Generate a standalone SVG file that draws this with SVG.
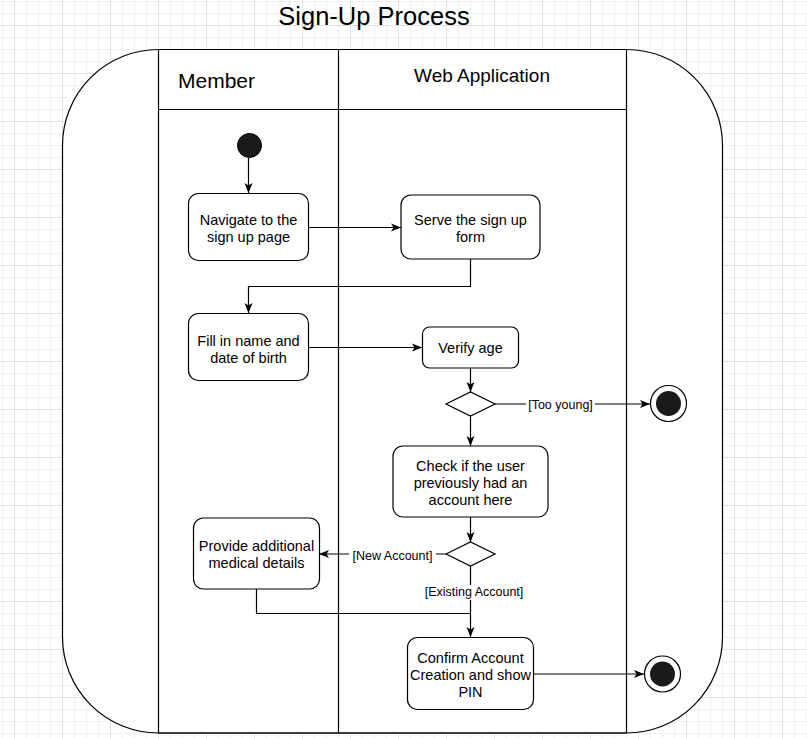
<svg xmlns="http://www.w3.org/2000/svg" width="807" height="738" viewBox="0 0 807 738">
<style>
text{font-family:"Liberation Sans",Arial,sans-serif;fill:#000}
.n{fill:#fff;stroke:#000;stroke-width:1.2}
.t{font-size:14.5px;text-anchor:middle}
.l{font-size:12.5px;text-anchor:middle}
.c{fill:none;stroke:#000;stroke-width:1.2}
.lb{fill:#fff}
</style>
<defs>
<pattern id="grid" patternUnits="userSpaceOnUse" x="14" y="25" width="48" height="48">
<path d="M12.5,0V48M24.5,0V48M36.5,0V48M0,12.5H48M0,24.5H48M0,36.5H48" stroke="#f1f1f1" stroke-width="1" fill="none"/>
<path d="M0.5,0V48M0,0.5H48" stroke="#e0e0e0" stroke-width="1" fill="none"/>
</pattern>
<marker id="arr" markerUnits="userSpaceOnUse" markerWidth="10" markerHeight="10" viewBox="0 0 10 10" refX="10" refY="5" orient="auto">
<path d="M0,1 L10,5 L0,9 L2.5,5 z" fill="#000"/>
</marker>
</defs>
<rect width="807" height="738" fill="#fff"/>
<rect width="807" height="738" fill="url(#grid)"/>
<text x="374" y="25" font-size="25.5" text-anchor="middle">Sign-Up Process</text>
<g id="container">
<rect x="62.5" y="49.5" width="660" height="683.5" rx="96" ry="96" fill="#fff" stroke="#000" stroke-width="1.2"/>
</g>
<g id="lanes">
<path d="M158.5,49.5V733M338.5,49.5V733M626.5,49.5V733M158.5,109.5H626.5M158.5,49.5H626.5M158.5,733H626.5" fill="none" stroke="#000" stroke-width="1.2"/>
<text x="178" y="88" font-size="21">Member</text>
<text x="482" y="82" font-size="19" text-anchor="middle">Web Application</text>
</g>
<g id="connectors">
<path class="c" d="M248.5,158V193" marker-end="url(#arr)"/>
<path class="c" d="M308,227.5H401" marker-end="url(#arr)"/>
<path class="c" d="M470.5,259V286.5H248.5V313" marker-end="url(#arr)"/>
<path class="c" d="M308,347.5H422" marker-end="url(#arr)"/>
<path class="c" d="M470.5,368V392" marker-end="url(#arr)"/>
<path class="c" d="M494,404H650" marker-end="url(#arr)"/>
<path class="c" d="M470.5,416V446" marker-end="url(#arr)"/>
<path class="c" d="M470.5,517V542" marker-end="url(#arr)"/>
<path class="c" d="M446,554H319" marker-end="url(#arr)"/>
<path class="c" d="M470.5,566V637" marker-end="url(#arr)"/>
<path class="c" d="M256.5,589V613.5H470.5"/>
<path class="c" d="M533,674H644" marker-end="url(#arr)"/>
<rect class="lb" x="526" y="397" width="69" height="15"/>
<text class="l" x="560.5" y="408.5">[Too young]</text>
<rect class="lb" x="349" y="548" width="87" height="15"/>
<text class="l" x="392.5" y="559.5">[New Account]</text>
<rect class="lb" x="422" y="585" width="104" height="15"/>
<text class="l" x="474" y="596">[Existing Account]</text>
</g>
<g id="start">
<circle cx="249.5" cy="145.5" r="12" fill="#1a1a1a" stroke="#000" stroke-width="1"/>
</g>
<g id="navigate">
<rect class="n" x="188.5" y="193.5" width="120" height="67" rx="10"/>
<text class="t" x="248.5" y="225">Navigate to the</text>
<text class="t" x="248.5" y="242">sign up page</text>
</g>
<g id="serve">
<rect class="n" x="401" y="195" width="139" height="64" rx="10"/>
<text class="t" x="470.5" y="225">Serve the sign up</text>
<text class="t" x="470.5" y="242">form</text>
</g>
<g id="fill">
<rect class="n" x="188.5" y="313.5" width="120" height="67" rx="10"/>
<text class="t" x="248.5" y="345.5">Fill in name and</text>
<text class="t" x="248.5" y="362.5">date of birth</text>
</g>
<g id="verify">
<rect class="n" x="422.5" y="327" width="96" height="41" rx="7"/>
<text class="t" x="470.5" y="352.5">Verify age</text>
</g>
<g id="decision1">
<path class="n" d="M446,404L470.5,392L495,404L470.5,416z"/>
</g>
<g id="end1">
<circle cx="668.5" cy="403.5" r="18" fill="#fff" stroke="#000" stroke-width="1.2"/>
<circle cx="668.5" cy="403.5" r="12.5" fill="#1a1a1a"/>
</g>
<g id="check">
<rect class="n" x="393" y="446" width="155" height="71" rx="10"/>
<text class="t" x="470.5" y="471">Check if the user</text>
<text class="t" x="470.5" y="488">previously had an</text>
<text class="t" x="470.5" y="505">account here</text>
</g>
<g id="decision2">
<path class="n" d="M446,554L470.5,542L495,554L470.5,566z"/>
</g>
<g id="provide">
<rect class="n" x="193.5" y="518" width="126" height="71" rx="10"/>
<text class="t" x="256.5" y="551">Provide additional</text>
<text class="t" x="256.5" y="568">medical details</text>
</g>
<g id="confirm">
<rect class="n" x="407.5" y="637.5" width="126" height="72" rx="10"/>
<text class="t" x="470.5" y="663">Confirm Account</text>
<text class="t" x="470.5" y="680">Creation and show</text>
<text class="t" x="470.5" y="697">PIN</text>
</g>
<g id="end2">
<circle cx="662.5" cy="674" r="18" fill="#fff" stroke="#000" stroke-width="1.2"/>
<circle cx="662.5" cy="674" r="12.5" fill="#1a1a1a"/>
</g>
</svg>
